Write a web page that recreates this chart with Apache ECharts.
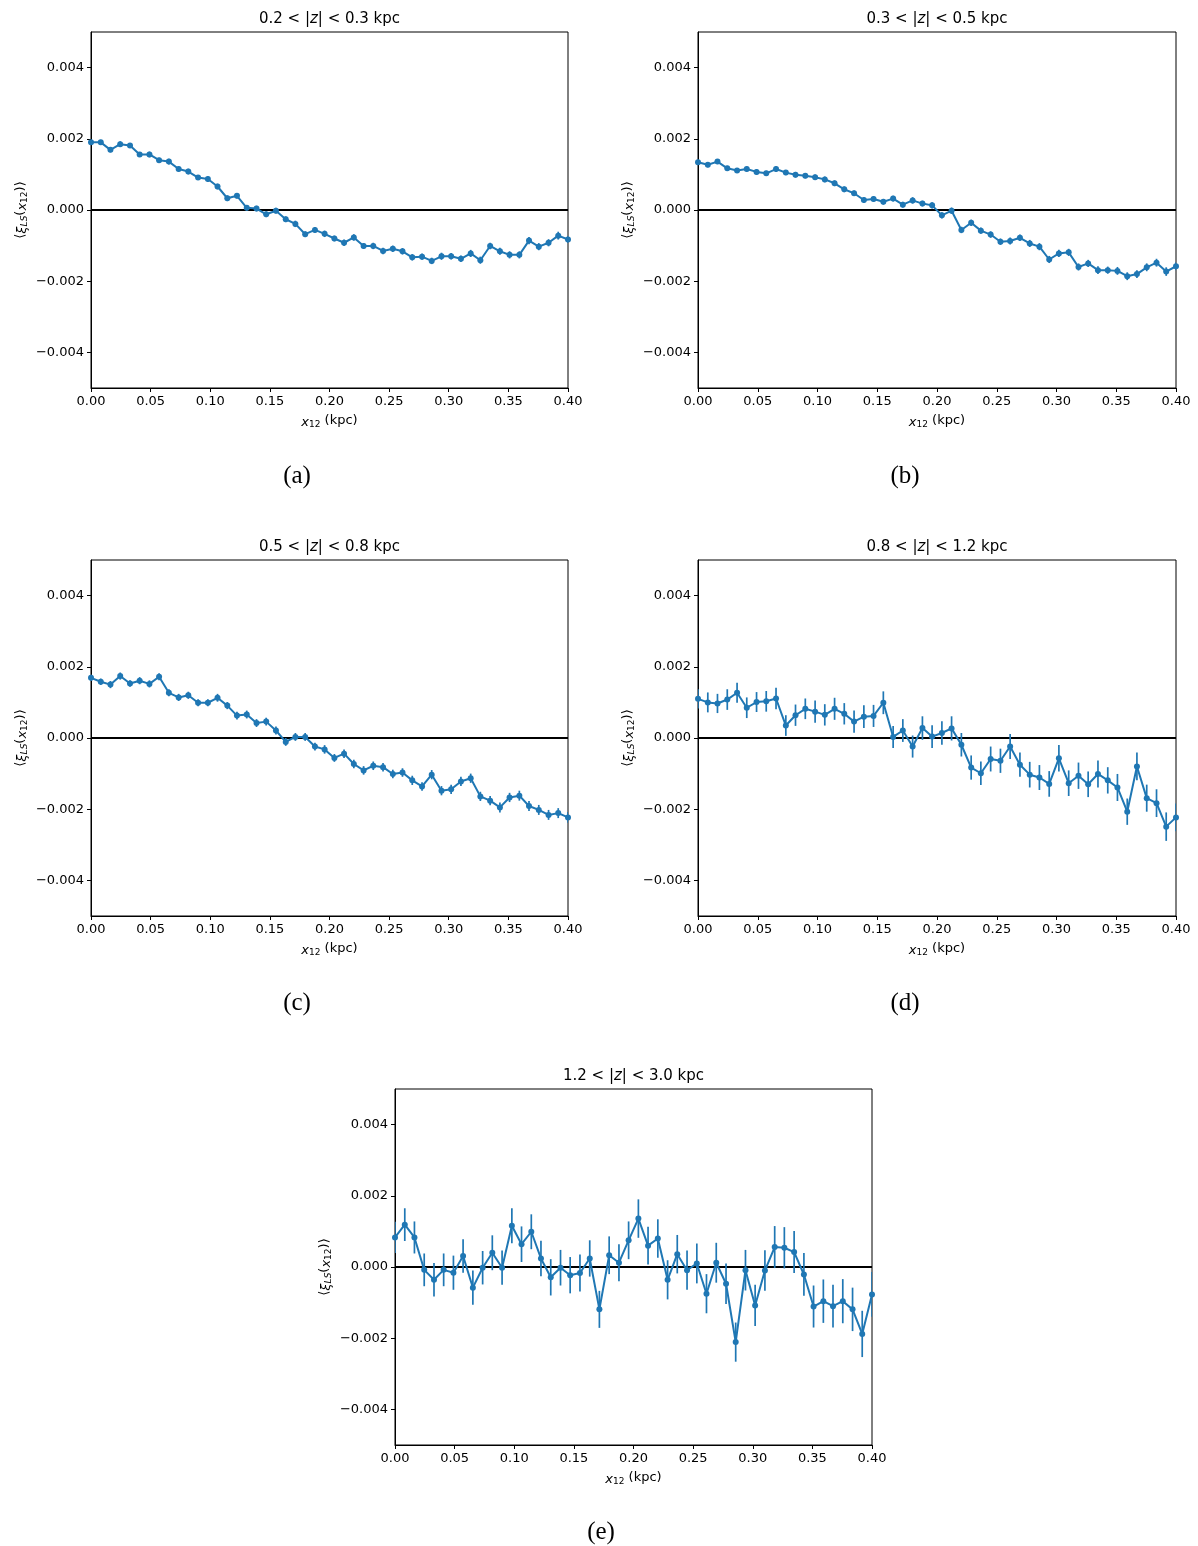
<!DOCTYPE html>
<html>
<head>
<meta charset="utf-8">
<script src="https://cdn.jsdelivr.net/npm/echarts@6/dist/echarts.min.js"></script>
<style>
  html, body { margin: 0; padding: 0; background: #fff; }
  #chart { width: 1198px; height: 1546px; }
</style>
</head>
<body>
<div id="chart"></div>
<script>
// Pair-separation bins (kpc)
const x12 = [0.0000, 0.0082, 0.0163, 0.0245, 0.0327, 0.0408, 0.0490, 0.0571, 0.0653, 0.0735,
             0.0816, 0.0898, 0.0980, 0.1061, 0.1143, 0.1224, 0.1306, 0.1388, 0.1469, 0.1551,
             0.1633, 0.1714, 0.1796, 0.1878, 0.1959, 0.2041, 0.2122, 0.2204, 0.2286, 0.2367,
             0.2449, 0.2531, 0.2612, 0.2694, 0.2776, 0.2857, 0.2939, 0.3020, 0.3102, 0.3184,
             0.3265, 0.3347, 0.3429, 0.3510, 0.3592, 0.3673, 0.3755, 0.3837, 0.3918, 0.4000];

// <xi_LS(x12)> for each |z| slab, with 1-sigma errors
const xiA = [0.00190, 0.00190, 0.00169, 0.00185, 0.00181, 0.00156, 0.00156, 0.00140, 0.00136, 0.00115,
             0.00108, 0.00091, 0.00087, 0.00066, 0.00033, 0.00040, 0.00006, 0.00004, -0.00012, -0.00002,
             -0.00026, -0.00039, -0.00068, -0.00056, -0.00067, -0.00080, -0.00092, -0.00077, -0.00101, -0.00101,
             -0.00115, -0.00109, -0.00116, -0.00133, -0.00131, -0.00143, -0.00130, -0.00130, -0.00137, -0.00122,
             -0.00141, -0.00101, -0.00116, -0.00126, -0.00126, -0.00086, -0.00103, -0.00092, -0.00072, -0.00083];
const errA = [0.00007, 0.00007, 0.00007, 0.00008, 0.00007, 0.00007, 0.00008, 0.00007, 0.00008, 0.00007,
              0.00008, 0.00007, 0.00008, 0.00008, 0.00008, 0.00008, 0.00008, 0.00008, 0.00008, 0.00008,
              0.00008, 0.00009, 0.00008, 0.00008, 0.00009, 0.00008, 0.00009, 0.00009, 0.00008, 0.00009,
              0.00009, 0.00009, 0.00009, 0.00009, 0.00009, 0.00009, 0.00010, 0.00009, 0.00009, 0.00010,
              0.00010, 0.00009, 0.00010, 0.00010, 0.00010, 0.00010, 0.00010, 0.00010, 0.00011, 0.00010];

const xiB = [0.00134, 0.00127, 0.00136, 0.00117, 0.00111, 0.00115, 0.00107, 0.00103, 0.00115, 0.00105,
             0.00099, 0.00096, 0.00092, 0.00086, 0.00075, 0.00058, 0.00047, 0.00028, 0.00031, 0.00023,
             0.00032, 0.00015, 0.00027, 0.00018, 0.00013, -0.00015, -0.00002, -0.00056, -0.00036, -0.00058,
             -0.00069, -0.00089, -0.00087, -0.00078, -0.00094, -0.00103, -0.00139, -0.00122, -0.00119, -0.00160,
             -0.00150, -0.00169, -0.00169, -0.00171, -0.00186, -0.00180, -0.00161, -0.00148, -0.00173, -0.00158];
const errB = [0.00007, 0.00007, 0.00007, 0.00007, 0.00007, 0.00007, 0.00008, 0.00007, 0.00008, 0.00007,
              0.00008, 0.00007, 0.00008, 0.00008, 0.00008, 0.00008, 0.00008, 0.00008, 0.00008, 0.00008,
              0.00008, 0.00008, 0.00009, 0.00008, 0.00009, 0.00009, 0.00009, 0.00009, 0.00009, 0.00009,
              0.00009, 0.00009, 0.00010, 0.00009, 0.00010, 0.00010, 0.00010, 0.00010, 0.00010, 0.00010,
              0.00010, 0.00011, 0.00010, 0.00011, 0.00011, 0.00011, 0.00011, 0.00011, 0.00012, 0.00011];

const xiC = [0.00169, 0.00158, 0.00150, 0.00174, 0.00153, 0.00161, 0.00152, 0.00172, 0.00127, 0.00114,
             0.00120, 0.00099, 0.00099, 0.00113, 0.00091, 0.00063, 0.00066, 0.00042, 0.00046, 0.00021,
             -0.00011, 0.00003, 0.00003, -0.00024, -0.00032, -0.00056, -0.00044, -0.00073, -0.00091, -0.00078,
             -0.00082, -0.00101, -0.00097, -0.00119, -0.00136, -0.00103, -0.00148, -0.00144, -0.00122, -0.00113,
             -0.00164, -0.00176, -0.00195, -0.00167, -0.00162, -0.00191, -0.00202, -0.00216, -0.00211, -0.00223];
const errC = [0.00009, 0.00009, 0.00010, 0.00010, 0.00009, 0.00010, 0.00010, 0.00010, 0.00010, 0.00010,
              0.00010, 0.00010, 0.00010, 0.00011, 0.00010, 0.00011, 0.00011, 0.00011, 0.00011, 0.00011,
              0.00011, 0.00011, 0.00011, 0.00011, 0.00012, 0.00011, 0.00012, 0.00012, 0.00012, 0.00012,
              0.00012, 0.00012, 0.00012, 0.00013, 0.00012, 0.00013, 0.00013, 0.00013, 0.00013, 0.00013,
              0.00013, 0.00013, 0.00014, 0.00013, 0.00014, 0.00014, 0.00014, 0.00014, 0.00014, 0.00015];

const xiD = [0.00110, 0.00100, 0.00097, 0.00108, 0.00127, 0.00085, 0.00101, 0.00103, 0.00111, 0.00035,
             0.00064, 0.00082, 0.00074, 0.00065, 0.00082, 0.00068, 0.00046, 0.00060, 0.00062, 0.00099,
             0.00003, 0.00021, -0.00024, 0.00028, 0.00004, 0.00014, 0.00027, -0.00019, -0.00083, -0.00099,
             -0.00059, -0.00064, -0.00024, -0.00075, -0.00103, -0.00111, -0.00129, -0.00057, -0.00127, -0.00106,
             -0.00130, -0.00101, -0.00119, -0.00139, -0.00207, -0.00080, -0.00169, -0.00183, -0.00249, -0.00223];
const errD = [0.00027, 0.00028, 0.00027, 0.00029, 0.00028, 0.00029, 0.00028, 0.00029, 0.00030, 0.00029,
              0.00030, 0.00029, 0.00031, 0.00030, 0.00031, 0.00030, 0.00031, 0.00032, 0.00031, 0.00032,
              0.00031, 0.00032, 0.00031, 0.00033, 0.00032, 0.00033, 0.00034, 0.00033, 0.00034, 0.00033,
              0.00035, 0.00034, 0.00035, 0.00034, 0.00036, 0.00035, 0.00036, 0.00037, 0.00036, 0.00037,
              0.00036, 0.00038, 0.00037, 0.00038, 0.00037, 0.00039, 0.00038, 0.00039, 0.00040, 0.00039];

const xiE = [0.00083, 0.00119, 0.00083, -0.00008, -0.00036, -0.00008, -0.00016, 0.00031, -0.00058, -0.00002,
             0.00040, -0.00002, 0.00116, 0.00064, 0.00099, 0.00024, -0.00029, -0.00002, -0.00023, -0.00017,
             0.00024, -0.00119, 0.00033, 0.00012, 0.00075, 0.00136, 0.00060, 0.00080, -0.00036, 0.00036,
             -0.00009, 0.00010, -0.00075, 0.00012, -0.00047, -0.00211, -0.00009, -0.00108, -0.00010, 0.00056,
             0.00054, 0.00042, -0.00021, -0.00111, -0.00096, -0.00110, -0.00096, -0.00119, -0.00188, -0.00077];
const errE = [0.00044, 0.00046, 0.00045, 0.00046, 0.00047, 0.00046, 0.00048, 0.00047, 0.00048, 0.00047,
              0.00049, 0.00048, 0.00049, 0.00050, 0.00049, 0.00050, 0.00051, 0.00050, 0.00051, 0.00052,
              0.00051, 0.00052, 0.00053, 0.00052, 0.00053, 0.00054, 0.00053, 0.00054, 0.00055, 0.00054,
              0.00055, 0.00056, 0.00055, 0.00056, 0.00057, 0.00055, 0.00057, 0.00058, 0.00057, 0.00059,
              0.00058, 0.00059, 0.00060, 0.00059, 0.00061, 0.00060, 0.00062, 0.00061, 0.00065, 0.00063];

// Slab boundaries |z| (kpc) and panel captions
const zLow = ['0.2', '0.3', '0.5', '0.8', '1.2'];
const zHigh = ['0.3', '0.5', '0.8', '1.2', '3.0'];
const captions = ['(a)', '(b)', '(c)', '(d)', '(e)'];

// Axis ticks
const xTicks = [0.00, 0.05, 0.10, 0.15, 0.20, 0.25, 0.30, 0.35, 0.40];
const yTicks = [-0.004, -0.002, 0.000, 0.002, 0.004];

const seriesVals = [xiA, xiB, xiC, xiD, xiE];
const seriesErrs = [errA, errB, errC, errD, errE];

// Panel layout (pixels)
const layout = [
  { left: 91,  top: 32,   width: 477, height: 356, capX: 297, capY: 476 },
  { left: 698, top: 32,   width: 478, height: 356, capX: 905, capY: 476 },
  { left: 91,  top: 560,  width: 477, height: 356, capX: 297, capY: 1003 },
  { left: 698, top: 560,  width: 478, height: 356, capX: 905, capY: 1003 },
  { left: 395, top: 1089, width: 477, height: 356, capX: 601, capY: 1532 }
];

const BLUE = '#1f77b4';
const FONT = 'DejaVu Sans';
const TICK_FS = 13;
const fmtY = v => (v < 0 ? '\u2212' : '') + Math.abs(v).toFixed(3);
const fmtX = v => v.toFixed(2);

const grids = [], xAxes = [], yAxes = [], series = [], graphics = [];

layout.forEach((L, k) => {
  grids.push({
    left: L.left, top: L.top, width: L.width, height: L.height,
    show: true, borderColor: '#000', borderWidth: 1, backgroundColor: '#fff', containLabel: false
  });
  xAxes.push({
    type: 'value', gridIndex: k, min: 0, max: 0.4,
    name: '{i|x}{s|12} (kpc)', nameLocation: 'middle', nameGap: 24,
    nameTextStyle: {
      color: '#000', fontFamily: FONT, fontSize: TICK_FS, lineHeight: 17,
      rich: {
        i: { fontStyle: 'italic', fontFamily: FONT, fontSize: TICK_FS, color: '#000', lineHeight: 17, verticalAlign: 'bottom' },
        s: { fontFamily: FONT, fontSize: 9, color: '#000', lineHeight: 9, verticalAlign: 'bottom' }
      }
    },
    axisLine: { show: true, onZero: false, lineStyle: { color: '#000', width: 1 } },
    axisTick: { show: true, inside: false, length: 4, customValues: xTicks, lineStyle: { color: '#000', width: 1 } },
    axisLabel: { show: true, margin: 7, color: '#000', fontFamily: FONT, fontSize: TICK_FS,
                 customValues: xTicks, formatter: fmtX, showMinLabel: true, showMaxLabel: true },
    splitLine: { show: false }
  });
  yAxes.push({
    type: 'value', gridIndex: k, min: -0.005, max: 0.005,
    name: '\u27E8{i|\u03BE}{s|LS}({i|x}{t|12})\u27E9', nameLocation: 'middle', nameGap: 62, nameRotate: 90,
    nameTextStyle: {
      color: '#000', fontFamily: FONT, fontSize: TICK_FS, lineHeight: 17,
      rich: {
        i: { fontStyle: 'italic', fontFamily: FONT, fontSize: TICK_FS, color: '#000', lineHeight: 17, verticalAlign: 'bottom' },
        s: { fontStyle: 'italic', fontFamily: FONT, fontSize: 9, color: '#000', lineHeight: 9, verticalAlign: 'bottom' },
        t: { fontFamily: FONT, fontSize: 9, color: '#000', lineHeight: 9, verticalAlign: 'bottom' }
      }
    },
    axisLine: { show: true, onZero: false, lineStyle: { color: '#000', width: 1 } },
    axisTick: { show: true, inside: false, length: 4, customValues: yTicks, lineStyle: { color: '#000', width: 1 } },
    axisLabel: { show: true, margin: 7, color: '#000', fontFamily: FONT, fontSize: TICK_FS,
                 customValues: yTicks, formatter: fmtY },
    splitLine: { show: false }
  });

  const pts = x12.map((x, i) => [x, seriesVals[k][i], seriesErrs[k][i]]);

  // horizontal reference at zero
  series.push({
    type: 'line', xAxisIndex: k, yAxisIndex: k, silent: true, z: 1,
    data: [[0, 0], [0.4, 0]], symbol: 'none',
    lineStyle: { color: '#000', width: 2 }, animation: false
  });
  // vertical error bars
  series.push({
    type: 'custom', xAxisIndex: k, yAxisIndex: k, z: 2, clip: true, silent: true,
    data: pts, encode: { x: 0, y: 1 },
    renderItem: (params, api) => {
      const x = api.value(0), y = api.value(1), e = api.value(2);
      const lo = api.coord([x, y - e]);
      const hi = api.coord([x, y + e]);
      return {
        type: 'line',
        shape: { x1: lo[0], y1: lo[1], x2: hi[0], y2: hi[1] },
        style: { stroke: BLUE, lineWidth: 1.7 }
      };
    },
    animation: false
  });
  // mean correlation curve with markers
  series.push({
    type: 'line', xAxisIndex: k, yAxisIndex: k, z: 3, clip: true,
    data: pts.map(p => [p[0], p[1]]),
    symbol: 'circle', symbolSize: 6, showAllSymbol: true,
    lineStyle: { color: BLUE, width: 2 },
    itemStyle: { color: BLUE },
    animation: false
  });

  // panel title
  graphics.push({
    type: 'text', x: L.left + L.width / 2, y: L.top - 13, z: 10,
    style: {
      text: zLow[k] + ' < |{i|z}| < ' + zHigh[k] + ' kpc',
      fill: '#000', fontFamily: FONT, fontSize: 15,
      align: 'center', verticalAlign: 'middle',
      rich: { i: { fontStyle: 'italic', fontFamily: FONT, fontSize: 15, fill: '#000' } }
    }
  });
  // sub-figure caption
  graphics.push({
    type: 'text', x: L.capX, y: L.capY, z: 10,
    style: {
      text: captions[k], fill: '#000', fontFamily: 'Liberation Serif', fontSize: 25,
      align: 'center', verticalAlign: 'middle'
    }
  });
});

const chart = echarts.init(document.getElementById('chart'), null, { renderer: 'canvas' });
chart.setOption({
  backgroundColor: '#fff',
  animation: false,
  grid: grids,
  xAxis: xAxes,
  yAxis: yAxes,
  series: series,
  graphic: graphics
});
</script>
</body>
</html>
